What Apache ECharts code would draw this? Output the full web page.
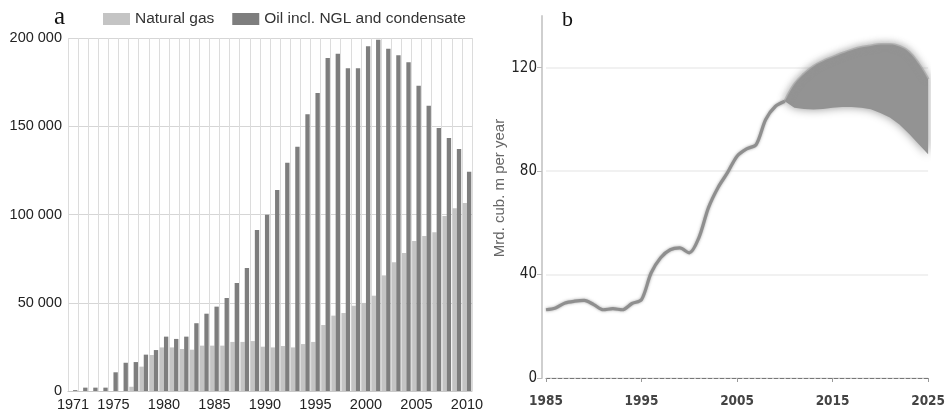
<!DOCTYPE html>
<html>
<head>
<meta charset="utf-8">
<script src="https://cdn.jsdelivr.net/npm/echarts@6/dist/echarts.min.js"></script>
<style>html,body{margin:0;padding:0;background:#fff}#c{width:948px;height:413px}</style>
</head>
<body>
<div id="c"></div>
<script>
// Panel a: production, bars
const yearsA = ['1971','1972','1973','1974','1975','1976','1977','1978','1979','1980',
  '1981','1982','1983','1984','1985','1986','1987','1988','1989','1990',
  '1991','1992','1993','1994','1995','1996','1997','1998','1999','2000',
  '2001','2002','2003','2004','2005','2006','2007','2008','2009','2010'];
const gasA = [0,0,0,0,0,0,2400,13800,20400,24700,
  24700,23800,23400,25700,25700,25700,27800,27800,28300,25100,
  24700,25500,24700,26600,27800,37400,42700,44200,48300,49900,
  54000,65500,72900,78200,85000,87800,89900,99200,103500,106500];
const oilA = [500,1900,1900,1900,10600,16000,16400,20600,23200,30800,
  29500,30800,38400,43800,47800,52700,61200,69700,91200,99900,
  113900,129300,138400,156800,168800,188700,191100,182800,182800,195300,
  199000,193900,190200,186200,173000,161600,149000,143400,137100,124200];

// Panel b: line + forecast band
const yearsB = ['1985','1986','1987','1988','1989','1990','1991','1992','1993','1994',
  '1995','1996','1997','1998','1999','2000','2001','2002','2003','2004',
  '2005','2006','2007','2008','2009','2010','2011','2012','2013','2014',
  '2015','2016','2017','2018','2019','2020','2021','2022','2023','2024','2025'];
const historyB = [26.4,27.1,29.0,29.7,30.0,28.4,26.4,26.8,26.4,28.8,
  30.3,40.6,46.5,49.6,50.3,48.4,54.2,65.8,73.6,79.4,
  85.8,88.6,90.3,100.0,105.0,107.0];
const bandYearsB = ['2010','2011','2012','2013','2014','2015','2016','2017','2018','2019','2020','2021','2022','2023','2024','2025'];
const bandLowB  = [107.0,104.5,104.0,103.8,104.0,104.5,104.8,104.8,104.5,103.9,102.5,100.7,98.0,94.5,90.5,86.5];
const bandHighB = [107.0,113.5,117.5,120.5,122.5,124.0,125.5,126.8,127.8,128.4,129.0,129.0,128.2,126.0,121.5,115.5];
const yTicksB = [0, 40, 80, 120];
const xLabelsB = ['1985','1995','2005','2015','2025'];

// aligned arrays for the category axis of panel b (stacked band = low + span)
const lowSeries = yearsB.map(y => { const i = bandYearsB.indexOf(y); return i < 0 ? '-' : bandLowB[i]; });
const spanSeries = yearsB.map(y => { const i = bandYearsB.indexOf(y); return i < 0 ? '-' : +(bandHighB[i] - bandLowB[i]).toFixed(2); });

const chart = echarts.init(document.getElementById('c'), null, {renderer: 'canvas'});
const sans = 'Liberation Sans, Arial, sans-serif';
const narrow = '"Liberation Sans Narrow", "DejaVu Sans Condensed", "Roboto Condensed", sans-serif';

chart.setOption({
  animation: false,
  backgroundColor: '#fff',
  legend: {
    left: 103, top: 11, padding: 0,
    itemWidth: 27, itemHeight: 12, itemGap: 18,
    icon: 'rect',
    textStyle: {fontFamily: sans, fontSize: 15.5, color: '#333'},
    data: ['Natural gas', 'Oil incl. NGL and condensate']
  },
  graphic: [
    {type: 'text', left: 54, top: 5, style: {text: 'a', font: '25px "Liberation Serif", serif', fill: '#111'}},
    {type: 'text', left: 562, top: 9, style: {text: 'b', font: '22px "Liberation Serif", serif', fill: '#111'}}
  ],
  grid: [
    {left: 68, top: 38, width: 404, height: 353},
    {left: 546, top: 16, width: 390, height: 362}
  ],
  xAxis: [
    {
      gridIndex: 0, type: 'category', data: yearsA, boundaryGap: true,
      axisLine: {show: true, lineStyle: {color: '#c8c8c8'}},
      axisTick: {show: false},
      splitLine: {show: true, interval: 0, lineStyle: {color: '#dcdcdc', width: 1}},
      axisLabel: {
        interval: (idx, val) => val === '1971' || (+val) % 5 === 0,
        fontFamily: sans, fontSize: 14.5, color: '#222', margin: 6
      }
    },
    {
      gridIndex: 1, type: 'category', data: yearsB, boundaryGap: false,
      axisLine: {show: true, lineStyle: {color: '#777', type: [4, 2], width: 1}},
      axisTick: {show: true, interval: 9, length: 4, lineStyle: {color: '#999'}},
      splitLine: {show: false},
      axisLabel: {
        interval: (idx, val) => xLabelsB.indexOf(val) >= 0,
        fontFamily: narrow, fontSize: 13.5, fontWeight: 'bold', color: '#444', margin: 16
      }
    }
  ],
  yAxis: [
    {
      gridIndex: 0, type: 'value', min: 0, max: 200000, interval: 50000,
      axisLine: {show: false}, axisTick: {show: false},
      splitLine: {show: true, lineStyle: {color: '#d6d6d6'}},
      axisLabel: {
        fontFamily: sans, fontSize: 14.5, color: '#222', margin: 6,
        formatter: v => v === 0 ? '0' : (v / 1000) + ' 000'
      }
    },
    {
      gridIndex: 1, type: 'value', min: 0, max: 140, interval: 40, offset: 4,
      axisLine: {show: true, lineStyle: {color: '#cfcfcf', width: 2}},
      axisTick: {show: true, length: 5, customValues: yTicksB, lineStyle: {color: '#bbb'}},
      splitLine: {show: true, lineStyle: {color: '#f1f1f1', width: 2}},
      axisLabel: {customValues: yTicksB, fontFamily: narrow, fontSize: 15, color: '#222', margin: 5},
      name: 'Mrd. cub. m per year', nameLocation: 'middle', nameRotate: 90, nameGap: 22,
      nameTextStyle: {fontFamily: sans, fontSize: 15, color: '#666', padding: [0, 0, 0, 18]}
    }
  ],
  series: [
    {
      name: 'Natural gas', type: 'bar', xAxisIndex: 0, yAxisIndex: 0, data: gasA,
      barGap: '0%', barCategoryGap: '14%',
      itemStyle: {color: '#c4c4c4'}
    },
    {
      name: 'Oil incl. NGL and condensate', type: 'bar', xAxisIndex: 0, yAxisIndex: 0, data: oilA,
      barGap: '0%', barCategoryGap: '14%',
      itemStyle: {color: '#7e7e7e'}
    },
    {
      name: 'bandLow', type: 'line', xAxisIndex: 1, yAxisIndex: 1, data: lowSeries,
      stack: 'band', symbol: 'none', lineStyle: {opacity: 0}, silent: true
    },
    {
      name: 'bandSpan', type: 'line', xAxisIndex: 1, yAxisIndex: 1, data: spanSeries,
      stack: 'band', symbol: 'none', smooth: 0.4, silent: true,
      lineStyle: {color: 'rgba(150,150,150,0.5)', width: 3, shadowBlur: 6, shadowColor: 'rgba(150,150,150,0.8)'},
      areaStyle: {color: '#939393', opacity: 1, shadowBlur: 10, shadowColor: 'rgba(150,150,150,1)'}
    },
    {
      name: 'history', type: 'line', xAxisIndex: 1, yAxisIndex: 1, data: historyB,
      symbol: 'none', smooth: 0.3,
      lineStyle: {color: '#8f8f8f', width: 3.2, shadowBlur: 3, shadowColor: 'rgba(130,130,130,0.7)'}
    }
  ]
});
</script>
</body>
</html>
